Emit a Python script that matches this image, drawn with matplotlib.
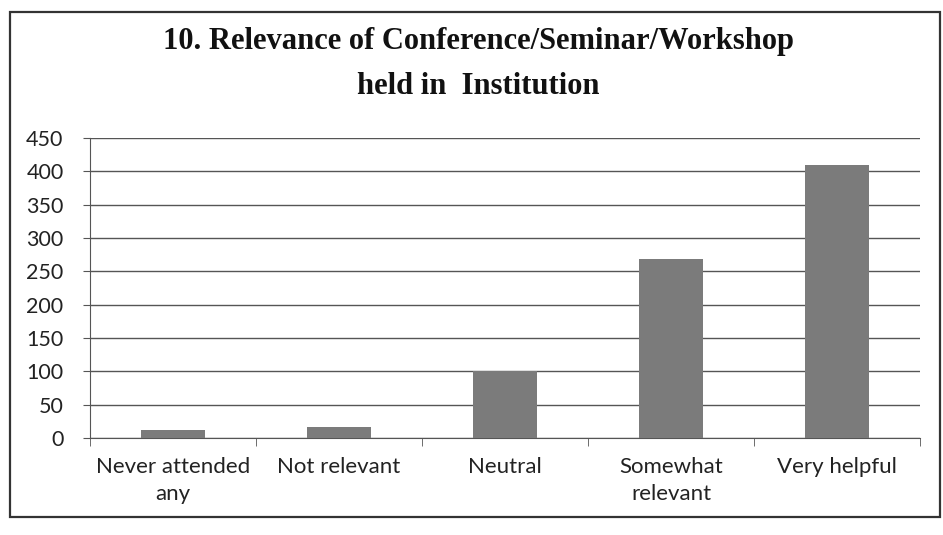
import matplotlib
matplotlib.use("Agg")
import matplotlib.pyplot as plt
from matplotlib.patches import Rectangle

categories = ["Never attended\nany", "Not relevant", "Neutral", "Somewhat\nrelevant", "Very helpful"]
values = [12, 17, 101, 268, 410]
yticks = [0, 50, 100, 150, 200, 250, 300, 350, 400, 450]
title = "10. Relevance of Conference/Seminar/Workshop\nheld in  Institution"

W, H = 943, 535
fig = plt.figure(figsize=(W / 100, H / 100), dpi=100)
fig.patch.set_facecolor("white")

# outer chart border
fig.patches.append(Rectangle((10 / W, 1 - 517 / H), 930 / W, 505 / H,
                             transform=fig.transFigure, fill=False,
                             edgecolor="#333333", linewidth=1.6))

ax = fig.add_axes([90 / W, 1 - 438 / H, 830 / W, 300 / H])
x = list(range(len(categories)))
ax.bar(x, values, width=0.39, color="#7b7b7b", zorder=3)
ax.set_xlim(-0.5, len(categories) - 0.5)
ax.set_ylim(0, 450)
ax.set_yticks(yticks)
ax.set_yticklabels([str(t) for t in yticks], fontsize=15.5, family="Lato", color="#222222")
ax.set_xticks(x)
ax.set_xticklabels(categories, fontsize=16, family="Lato", color="#222222", linespacing=1.4)
ax.set_xticks([i + 0.5 for i in range(-1, len(categories))], minor=True)
ax.tick_params(axis="x", which="major", length=0, pad=14)
ax.tick_params(axis="x", which="minor", length=6, color="#555555", direction="out")
ax.tick_params(axis="y", length=5, color="#555555", direction="out", pad=14)
ax.grid(axis="y", color="#555555", linewidth=1.0, zorder=0)
for s in ["top", "right"]:
    ax.spines[s].set_visible(False)
ax.spines["left"].set_color("#555555")
ax.spines["bottom"].set_color("#555555")

fig.text(478 / W, 1 - 64 / H, title, ha="center", va="center",
         family="Liberation Serif", fontweight="bold", fontsize=22, linespacing=1.75,
         color="#111111")

fig.savefig("out.png", dpi=100, facecolor="white")
